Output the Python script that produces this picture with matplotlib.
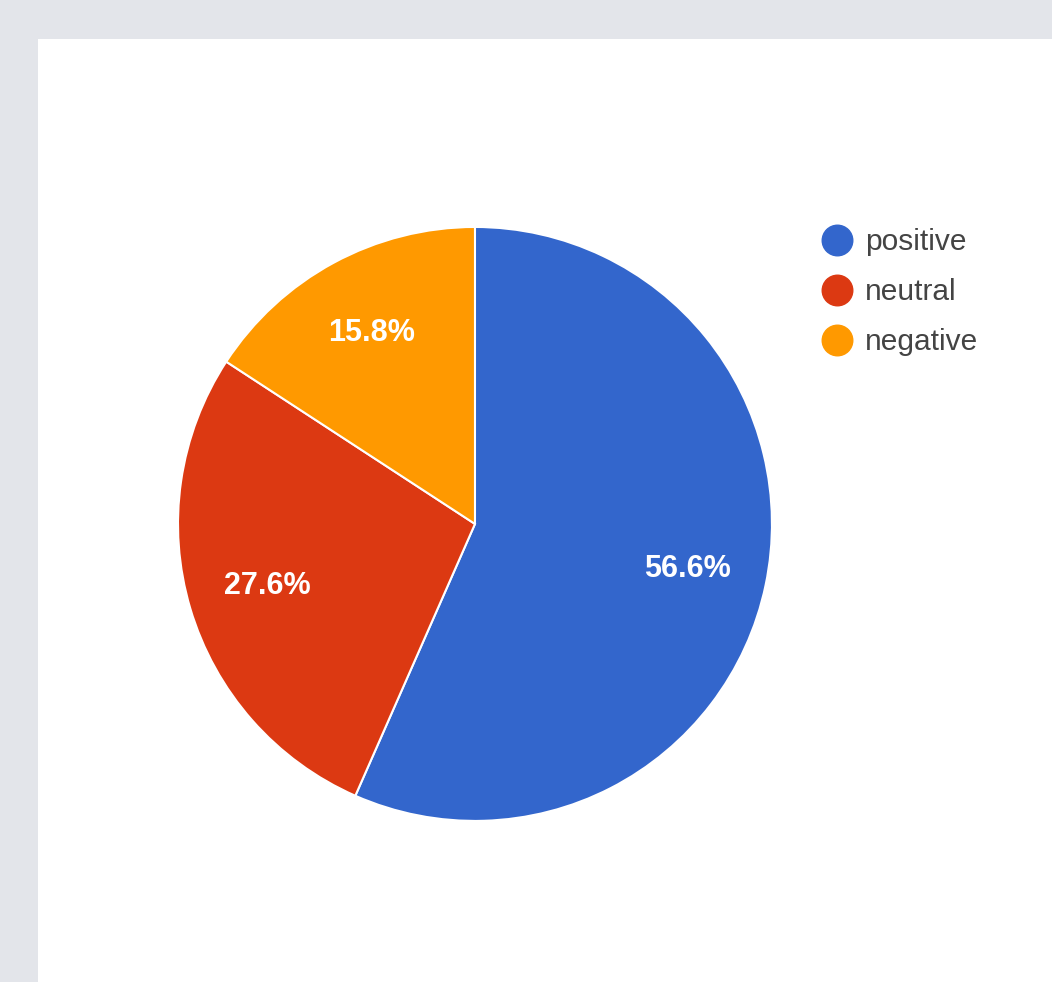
import matplotlib.pyplot as plt
from matplotlib.patches import Rectangle
from matplotlib.lines import Line2D

# sentiment split
labels = ["positive", "neutral", "negative"]
shares = [56.6, 27.6, 15.8]
slice_colors = ["#3366cc", "#dc3912", "#ff9900"]

plt.rcParams['font.family'] = ['Liberation Sans', 'DejaVu Sans']

fig = plt.figure(figsize=(10.52, 9.82), dpi=100)
fig.patch.set_facecolor("#e3e5ea")
# white card behind the chart
fig.patches.append(Rectangle((38 / 1052, 0), 1, 1 - 39 / 982,
                             transform=fig.transFigure, facecolor="white",
                             edgecolor="none", zorder=-1))

ax = fig.add_axes([0.1692, 0.164, 0.5646, 0.6049])
ax.set_zorder(1)
wedges, texts, autotexts = ax.pie(
    shares, colors=slice_colors, startangle=90, counterclock=False,
    autopct="%.1f%%", pctdistance=0.73,
    wedgeprops=dict(edgecolor="white", linewidth=1.5),
    textprops=dict(color="white", fontsize=22, fontweight="bold"))
ax.set_xlim(-1, 1)
ax.set_ylim(-1, 1)

handles = [Line2D([], [], marker="o", linestyle="none", markersize=22,
                  markerfacecolor=c, markeredgecolor=c) for c in slice_colors]
leg = fig.legend(handles, labels, loc="upper left",
                 bbox_to_anchor=(822 / 1052, 1 - 228 / 982),
                 frameon=False, fontsize=21.5, labelspacing=0.74,
                 handlelength=1.0, handletextpad=0.45, borderpad=0,
                 borderaxespad=0)
leg.set_zorder(2)
for t in leg.get_texts():
    t.set_color("#444444")

fig.savefig("out.png", dpi=100, facecolor=fig.get_facecolor())
